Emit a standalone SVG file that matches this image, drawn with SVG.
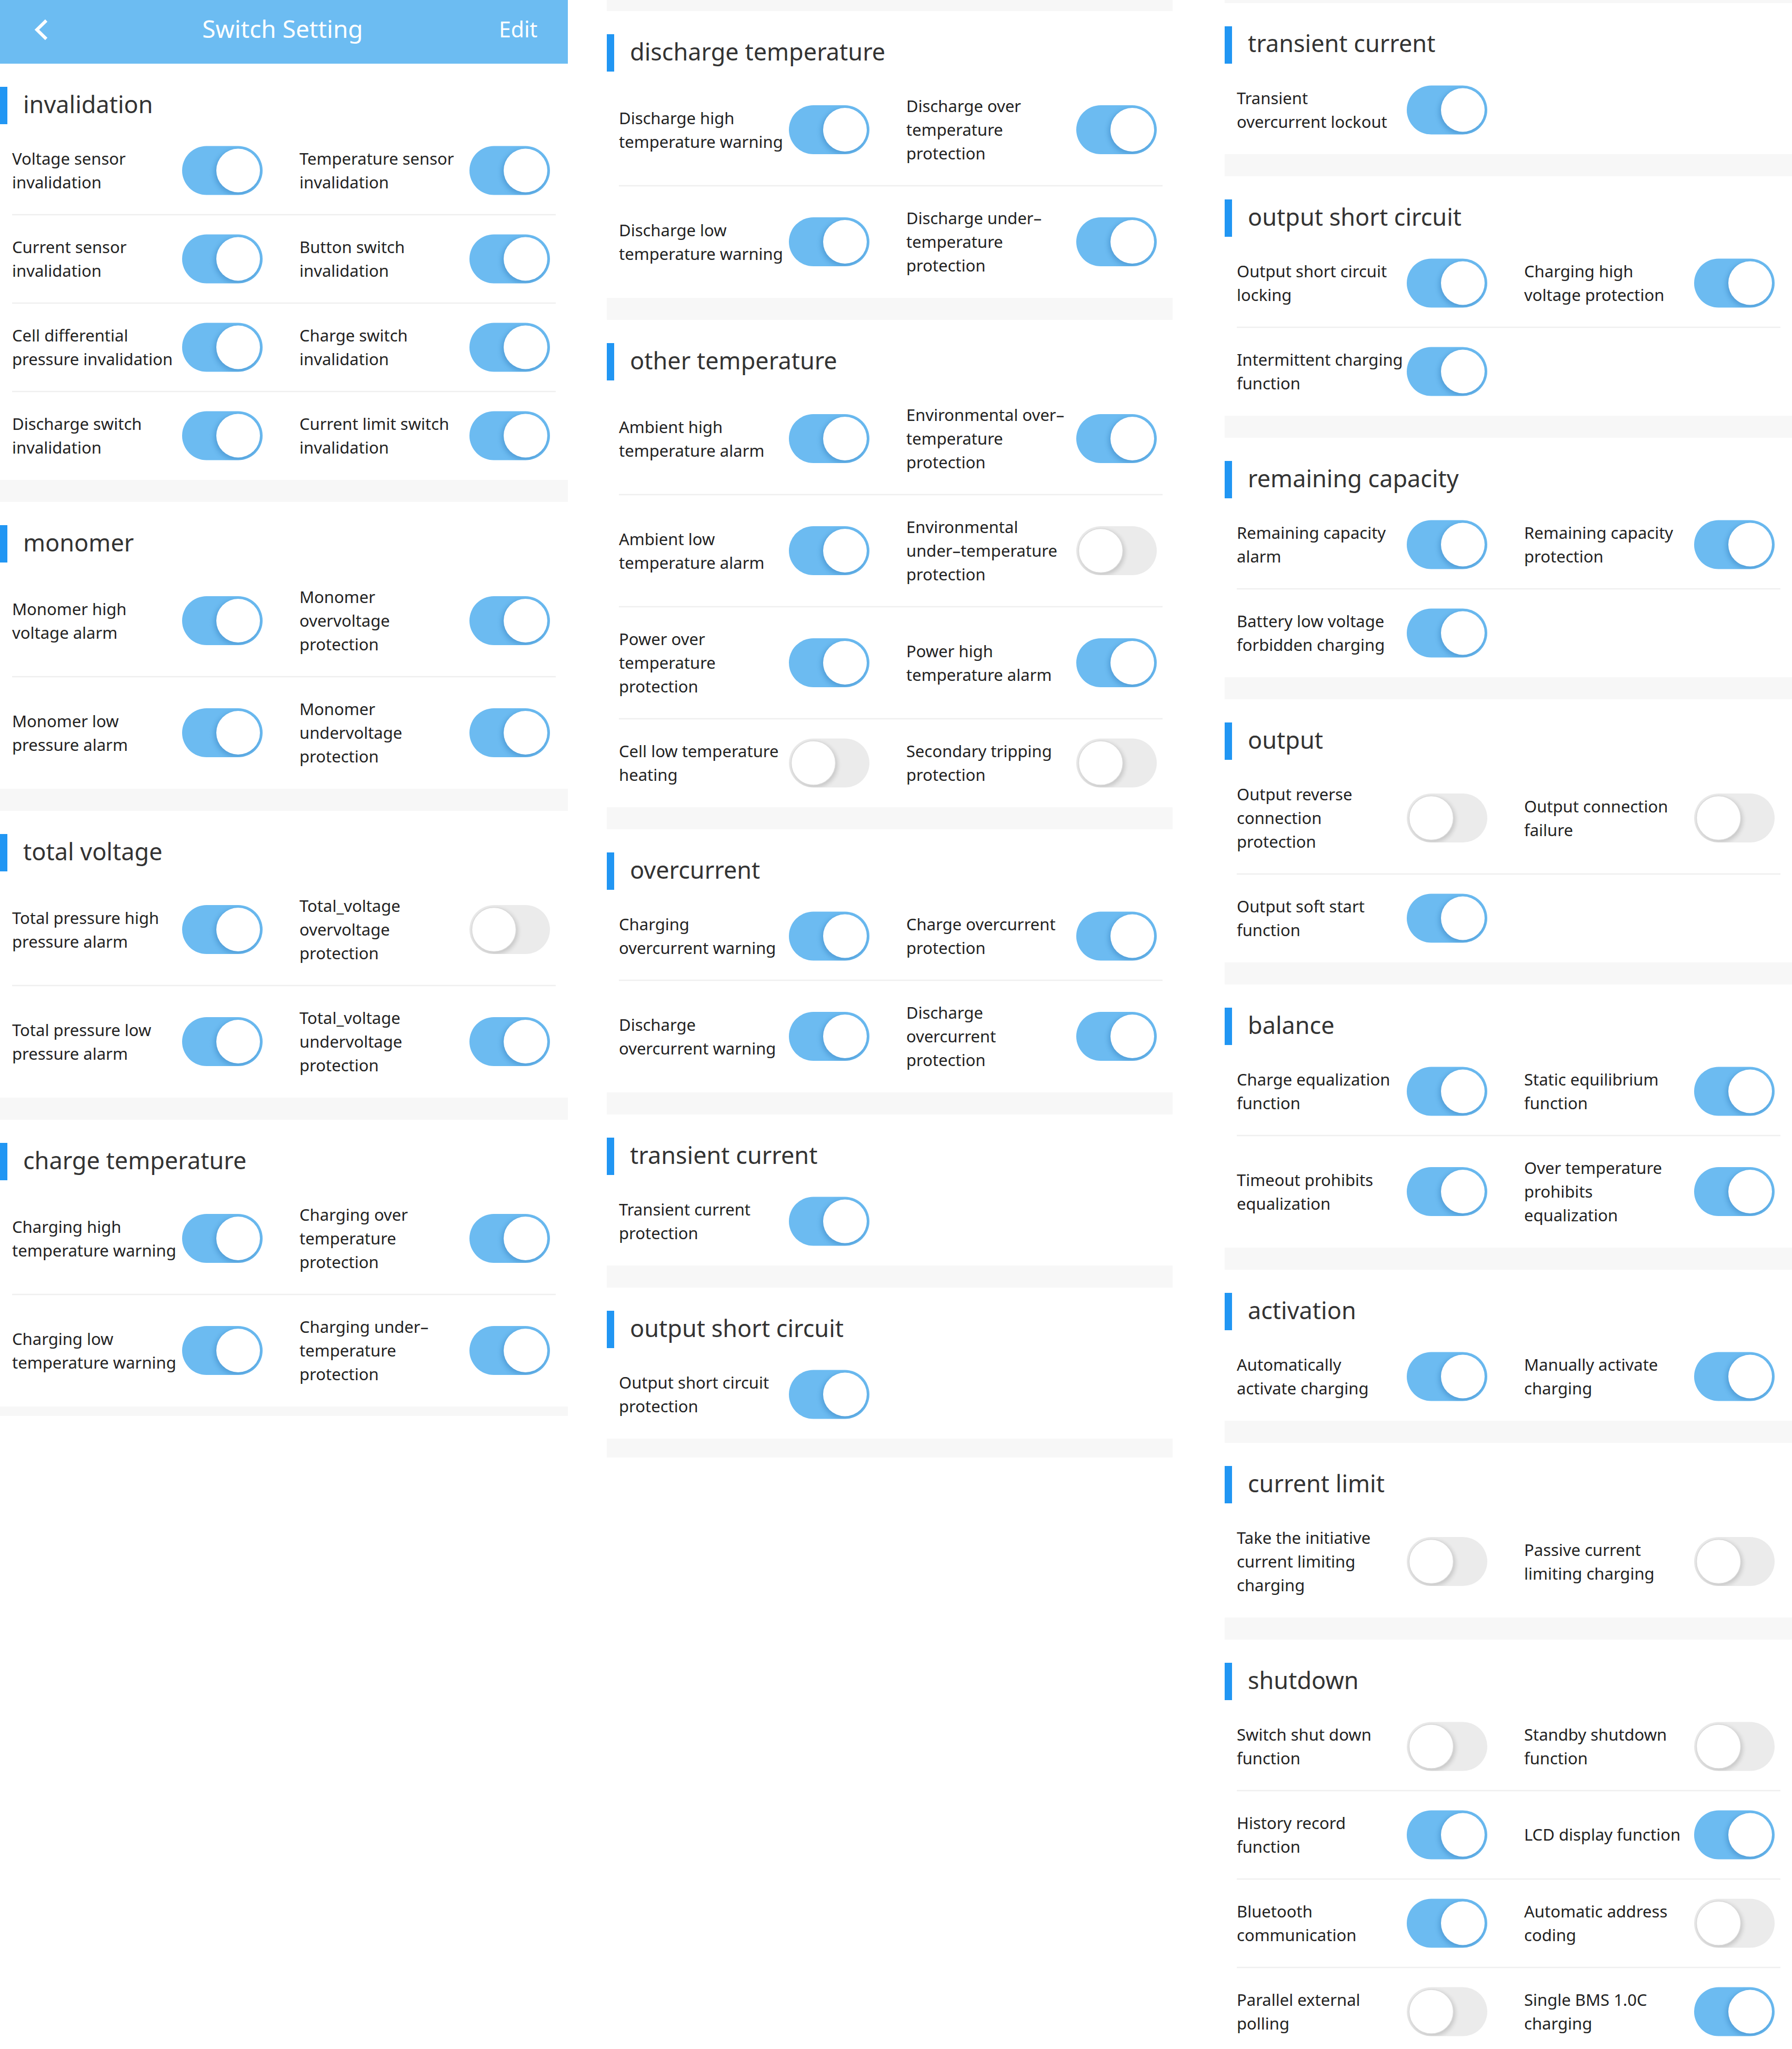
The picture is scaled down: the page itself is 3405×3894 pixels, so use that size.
<svg xmlns="http://www.w3.org/2000/svg" width="3405" height="3894" viewBox="0 0 3405 3894">
<style>
.lbl{font-family:"Noto Sans","Open Sans",sans-serif;font-size:31px;fill:#222}
.ttl{font-family:"Noto Sans","Open Sans",sans-serif;font-size:45px;fill:#333}
.hdr{font-family:"Noto Sans","Open Sans",sans-serif;fill:#fff}
.band{fill:#F7F7F7}
.bar{fill:#2196F3}
.sep{stroke:#EFEFEF;stroke-width:2.5}
</style>
<defs>
<clipPath id="cpT"><rect width="153" height="93" rx="46.5"/></clipPath>
<filter id="blur" x="-40%" y="-40%" width="180%" height="180%"><feGaussianBlur stdDeviation="4"/></filter>
<g id="tOn">
<rect width="153" height="93" rx="46.5" fill="#6CBBF1"/>
<g clip-path="url(#cpT)"><circle cx="104" cy="50" r="43" fill="#2F78B8" opacity="0.4" filter="url(#blur)"/></g>
<circle cx="106.5" cy="46.5" r="41.5" fill="#fff"/>
</g>
<g id="tOff">
<rect width="153" height="93" rx="46.5" fill="#EBEBEB"/>
<g clip-path="url(#cpT)"><circle cx="49" cy="50" r="43" fill="#000" opacity="0.16" filter="url(#blur)"/></g>
<circle cx="46.5" cy="46.5" r="42" fill="#fff" stroke="#DADADA" stroke-width="1.5"/>
</g>
</defs>
<rect width="3405" height="3894" fill="#fff"/>

<!-- Column 1 -->
<g id="col1">
<g id="header">
<rect x="0" y="0" width="1079" height="121" fill="#6CBCF2"/>
<path d="M88 39 L70 56.5 L88 74" fill="none" stroke="#fff" stroke-width="6" stroke-linejoin="miter"/>
<text class="hdr" x="537" y="72" font-size="46" text-anchor="middle">Switch Setting</text>
<text class="hdr" x="948" y="71" font-size="41">Edit</text>
</g>

<g id="sec-invalidation">
<rect class="bar" x="0" y="165" width="14" height="71"/>
<text class="ttl" x="44" y="215">invalidation</text>
<line class="sep" x1="23" y1="408" x2="1056" y2="408"/>
<line class="sep" x1="23" y1="576" x2="1056" y2="576"/>
<line class="sep" x1="23" y1="744" x2="1056" y2="744"/>
<g transform="translate(0,324)">
<g id="voltage-sensor-invalidation"><text class="lbl" x="23" y="-11">Voltage sensor</text><text class="lbl" x="23" y="34">invalidation</text><use href="#tOn" x="346" y="-46.5"/></g>
<g id="temperature-sensor-invalidation"><text class="lbl" x="569" y="-11">Temperature sensor</text><text class="lbl" x="569" y="34">invalidation</text><use href="#tOn" x="892" y="-46.5"/></g>
</g>
<g transform="translate(0,492)">
<g id="current-sensor-invalidation"><text class="lbl" x="23" y="-11">Current sensor</text><text class="lbl" x="23" y="34">invalidation</text><use href="#tOn" x="346" y="-46.5"/></g>
<g id="button-switch-invalidation"><text class="lbl" x="569" y="-11">Button switch</text><text class="lbl" x="569" y="34">invalidation</text><use href="#tOn" x="892" y="-46.5"/></g>
</g>
<g transform="translate(0,660)">
<g id="cell-differential-pressure-invalidation"><text class="lbl" x="23" y="-11">Cell differential</text><text class="lbl" x="23" y="34">pressure invalidation</text><use href="#tOn" x="346" y="-46.5"/></g>
<g id="charge-switch-invalidation"><text class="lbl" x="569" y="-11">Charge switch</text><text class="lbl" x="569" y="34">invalidation</text><use href="#tOn" x="892" y="-46.5"/></g>
</g>
<g transform="translate(0,828)">
<g id="discharge-switch-invalidation"><text class="lbl" x="23" y="-11">Discharge switch</text><text class="lbl" x="23" y="34">invalidation</text><use href="#tOn" x="346" y="-46.5"/></g>
<g id="current-limit-switch-invalidation"><text class="lbl" x="569" y="-11">Current limit switch</text><text class="lbl" x="569" y="34">invalidation</text><use href="#tOn" x="892" y="-46.5"/></g>
</g>
</g>
<rect class="band" x="0" y="912" width="1079" height="42"/>

<g id="sec-monomer">
<rect class="bar" x="0" y="998" width="14" height="71"/>
<text class="ttl" x="44" y="1048">monomer</text>
<line class="sep" x1="23" y1="1286" x2="1056" y2="1286"/>
<g transform="translate(0,1179.5)">
<g id="monomer-high-voltage-alarm"><text class="lbl" x="23" y="-11">Monomer high</text><text class="lbl" x="23" y="34">voltage alarm</text><use href="#tOn" x="346" y="-46.5"/></g>
<g id="monomer-overvoltage-protection"><text class="lbl" x="569" y="-34">Monomer</text><text class="lbl" x="569" y="11">overvoltage</text><text class="lbl" x="569" y="56">protection</text><use href="#tOn" x="892" y="-46.5"/></g>
</g>
<g transform="translate(0,1392.5)">
<g id="monomer-low-pressure-alarm"><text class="lbl" x="23" y="-11">Monomer low</text><text class="lbl" x="23" y="34">pressure alarm</text><use href="#tOn" x="346" y="-46.5"/></g>
<g id="monomer-undervoltage-protection"><text class="lbl" x="569" y="-34">Monomer</text><text class="lbl" x="569" y="11">undervoltage</text><text class="lbl" x="569" y="56">protection</text><use href="#tOn" x="892" y="-46.5"/></g>
</g>
</g>
<rect class="band" x="0" y="1499" width="1079" height="42"/>

<g id="sec-total-voltage">
<rect class="bar" x="0" y="1585" width="14" height="71"/>
<text class="ttl" x="44" y="1635">total voltage</text>
<line class="sep" x1="23" y1="1873" x2="1056" y2="1873"/>
<g transform="translate(0,1766.5)">
<g id="total-pressure-high-pressure-alarm"><text class="lbl" x="23" y="-11">Total pressure high</text><text class="lbl" x="23" y="34">pressure alarm</text><use href="#tOn" x="346" y="-46.5"/></g>
<g id="total-voltage-overvoltage-protection"><text class="lbl" x="569" y="-34">Total_voltage</text><text class="lbl" x="569" y="11">overvoltage</text><text class="lbl" x="569" y="56">protection</text><use href="#tOff" x="892" y="-46.5"/></g>
</g>
<g transform="translate(0,1979.5)">
<g id="total-pressure-low-pressure-alarm"><text class="lbl" x="23" y="-11">Total pressure low</text><text class="lbl" x="23" y="34">pressure alarm</text><use href="#tOn" x="346" y="-46.5"/></g>
<g id="total-voltage-undervoltage-protection"><text class="lbl" x="569" y="-34">Total_voltage</text><text class="lbl" x="569" y="11">undervoltage</text><text class="lbl" x="569" y="56">protection</text><use href="#tOn" x="892" y="-46.5"/></g>
</g>
</g>
<rect class="band" x="0" y="2086" width="1079" height="42"/>

<g id="sec-charge-temperature">
<rect class="bar" x="0" y="2172" width="14" height="71"/>
<text class="ttl" x="44" y="2222">charge temperature</text>
<line class="sep" x1="23" y1="2460" x2="1056" y2="2460"/>
<g transform="translate(0,2353.5)">
<g id="charging-high-temperature-warning"><text class="lbl" x="23" y="-11">Charging high</text><text class="lbl" x="23" y="34">temperature warning</text><use href="#tOn" x="346" y="-46.5"/></g>
<g id="charging-over-temperature-protection"><text class="lbl" x="569" y="-34">Charging over</text><text class="lbl" x="569" y="11">temperature</text><text class="lbl" x="569" y="56">protection</text><use href="#tOn" x="892" y="-46.5"/></g>
</g>
<g transform="translate(0,2566.5)">
<g id="charging-low-temperature-warning"><text class="lbl" x="23" y="-11">Charging low</text><text class="lbl" x="23" y="34">temperature warning</text><use href="#tOn" x="346" y="-46.5"/></g>
<g id="charging-under-temperature-protection"><text class="lbl" x="569" y="-34">Charging under–</text><text class="lbl" x="569" y="11">temperature</text><text class="lbl" x="569" y="56">protection</text><use href="#tOn" x="892" y="-46.5"/></g>
</g>
</g>
<rect class="band" x="0" y="2673" width="1079" height="18"/>
</g>

<!-- Column 2 -->
<g id="col2" transform="translate(1153,0)">
<rect class="band" x="0" y="0" width="1075" height="21"/>

<g id="sec-discharge-temperature">
<rect class="bar" x="0" y="65" width="14" height="71"/>
<text class="ttl" x="44" y="115">discharge temperature</text>
<line class="sep" x1="23" y1="353" x2="1056" y2="353"/>
<g transform="translate(0,246.5)">
<g id="discharge-high-temperature-warning"><text class="lbl" x="23" y="-11">Discharge high</text><text class="lbl" x="23" y="34">temperature warning</text><use href="#tOn" x="346" y="-46.5"/></g>
<g id="discharge-over-temperature-protection"><text class="lbl" x="569" y="-34">Discharge over</text><text class="lbl" x="569" y="11">temperature</text><text class="lbl" x="569" y="56">protection</text><use href="#tOn" x="892" y="-46.5"/></g>
</g>
<g transform="translate(0,459.5)">
<g id="discharge-low-temperature-warning"><text class="lbl" x="23" y="-11">Discharge low</text><text class="lbl" x="23" y="34">temperature warning</text><use href="#tOn" x="346" y="-46.5"/></g>
<g id="discharge-under-temperature-protection"><text class="lbl" x="569" y="-34">Discharge under–</text><text class="lbl" x="569" y="11">temperature</text><text class="lbl" x="569" y="56">protection</text><use href="#tOn" x="892" y="-46.5"/></g>
</g>
</g>
<rect class="band" x="0" y="566" width="1075" height="42"/>

<g id="sec-other-temperature">
<rect class="bar" x="0" y="652" width="14" height="71"/>
<text class="ttl" x="44" y="702">other temperature</text>
<line class="sep" x1="23" y1="940" x2="1056" y2="940"/>
<line class="sep" x1="23" y1="1153" x2="1056" y2="1153"/>
<line class="sep" x1="23" y1="1366" x2="1056" y2="1366"/>
<g transform="translate(0,833.5)">
<g id="ambient-high-temperature-alarm"><text class="lbl" x="23" y="-11">Ambient high</text><text class="lbl" x="23" y="34">temperature alarm</text><use href="#tOn" x="346" y="-46.5"/></g>
<g id="environmental-over-temperature-protection"><text class="lbl" x="569" y="-34">Environmental over–</text><text class="lbl" x="569" y="11">temperature</text><text class="lbl" x="569" y="56">protection</text><use href="#tOn" x="892" y="-46.5"/></g>
</g>
<g transform="translate(0,1046.5)">
<g id="ambient-low-temperature-alarm"><text class="lbl" x="23" y="-11">Ambient low</text><text class="lbl" x="23" y="34">temperature alarm</text><use href="#tOn" x="346" y="-46.5"/></g>
<g id="environmental-under-temperature-protection"><text class="lbl" x="569" y="-34">Environmental</text><text class="lbl" x="569" y="11">under–temperature</text><text class="lbl" x="569" y="56">protection</text><use href="#tOff" x="892" y="-46.5"/></g>
</g>
<g transform="translate(0,1259.5)">
<g id="power-over-temperature-protection"><text class="lbl" x="23" y="-34">Power over</text><text class="lbl" x="23" y="11">temperature</text><text class="lbl" x="23" y="56">protection</text><use href="#tOn" x="346" y="-46.5"/></g>
<g id="power-high-temperature-alarm"><text class="lbl" x="569" y="-11">Power high</text><text class="lbl" x="569" y="34">temperature alarm</text><use href="#tOn" x="892" y="-46.5"/></g>
</g>
<g transform="translate(0,1450)">
<g id="cell-low-temperature-heating"><text class="lbl" x="23" y="-11">Cell low temperature</text><text class="lbl" x="23" y="34">heating</text><use href="#tOff" x="346" y="-46.5"/></g>
<g id="secondary-tripping-protection"><text class="lbl" x="569" y="-11">Secondary tripping</text><text class="lbl" x="569" y="34">protection</text><use href="#tOff" x="892" y="-46.5"/></g>
</g>
</g>
<rect class="band" x="0" y="1534" width="1075" height="42"/>

<g id="sec-overcurrent">
<rect class="bar" x="0" y="1620" width="14" height="71"/>
<text class="ttl" x="44" y="1670">overcurrent</text>
<line class="sep" x1="23" y1="1863" x2="1056" y2="1863"/>
<g transform="translate(0,1779)">
<g id="charging-overcurrent-warning"><text class="lbl" x="23" y="-11">Charging</text><text class="lbl" x="23" y="34">overcurrent warning</text><use href="#tOn" x="346" y="-46.5"/></g>
<g id="charge-overcurrent-protection"><text class="lbl" x="569" y="-11">Charge overcurrent</text><text class="lbl" x="569" y="34">protection</text><use href="#tOn" x="892" y="-46.5"/></g>
</g>
<g transform="translate(0,1969.5)">
<g id="discharge-overcurrent-warning"><text class="lbl" x="23" y="-11">Discharge</text><text class="lbl" x="23" y="34">overcurrent warning</text><use href="#tOn" x="346" y="-46.5"/></g>
<g id="discharge-overcurrent-protection"><text class="lbl" x="569" y="-34">Discharge</text><text class="lbl" x="569" y="11">overcurrent</text><text class="lbl" x="569" y="56">protection</text><use href="#tOn" x="892" y="-46.5"/></g>
</g>
</g>
<rect class="band" x="0" y="2076" width="1075" height="42"/>

<g id="sec-transient-current-2">
<rect class="bar" x="0" y="2162" width="14" height="71"/>
<text class="ttl" x="44" y="2212">transient current</text>
<g transform="translate(0,2321)">
<g id="transient-current-protection"><text class="lbl" x="23" y="-11">Transient current</text><text class="lbl" x="23" y="34">protection</text><use href="#tOn" x="346" y="-46.5"/></g>
</g>
</g>
<rect class="band" x="0" y="2405" width="1075" height="42"/>

<g id="sec-output-short-circuit-2">
<rect class="bar" x="0" y="2491" width="14" height="71"/>
<text class="ttl" x="44" y="2541">output short circuit</text>
<g transform="translate(0,2650)">
<g id="output-short-circuit-protection"><text class="lbl" x="23" y="-11">Output short circuit</text><text class="lbl" x="23" y="34">protection</text><use href="#tOn" x="346" y="-46.5"/></g>
</g>
</g>
<rect class="band" x="0" y="2734" width="1075" height="36"/>
</g>

<!-- Column 3 -->
<g id="col3" transform="translate(2327,0)">
<rect class="band" x="0" y="0" width="1078" height="6"/>

<g id="sec-transient-current-3">
<rect class="bar" x="0" y="50" width="14" height="71"/>
<text class="ttl" x="44" y="99">transient current</text>
<g transform="translate(0,209)">
<g id="transient-overcurrent-lockout"><text class="lbl" x="23" y="-11">Transient</text><text class="lbl" x="23" y="34">overcurrent lockout</text><use href="#tOn" x="346" y="-46.5"/></g>
</g>
</g>
<rect class="band" x="0" y="293" width="1078" height="42"/>

<g id="sec-output-short-circuit-3">
<rect class="bar" x="0" y="379" width="14" height="71"/>
<text class="ttl" x="44" y="429">output short circuit</text>
<line class="sep" x1="23" y1="622" x2="1056" y2="622"/>
<g transform="translate(0,538)">
<g id="output-short-circuit-locking"><text class="lbl" x="23" y="-11">Output short circuit</text><text class="lbl" x="23" y="34">locking</text><use href="#tOn" x="346" y="-46.5"/></g>
<g id="charging-high-voltage-protection"><text class="lbl" x="569" y="-11">Charging high</text><text class="lbl" x="569" y="34">voltage protection</text><use href="#tOn" x="892" y="-46.5"/></g>
</g>
<g transform="translate(0,706)">
<g id="intermittent-charging-function"><text class="lbl" x="23" y="-11">Intermittent charging</text><text class="lbl" x="23" y="34">function</text><use href="#tOn" x="346" y="-46.5"/></g>
</g>
</g>
<rect class="band" x="0" y="790" width="1078" height="42"/>

<g id="sec-remaining-capacity">
<rect class="bar" x="0" y="876" width="14" height="71"/>
<text class="ttl" x="44" y="926">remaining capacity</text>
<line class="sep" x1="23" y1="1119" x2="1056" y2="1119"/>
<g transform="translate(0,1035)">
<g id="remaining-capacity-alarm"><text class="lbl" x="23" y="-11">Remaining capacity</text><text class="lbl" x="23" y="34">alarm</text><use href="#tOn" x="346" y="-46.5"/></g>
<g id="remaining-capacity-protection"><text class="lbl" x="569" y="-11">Remaining capacity</text><text class="lbl" x="569" y="34">protection</text><use href="#tOn" x="892" y="-46.5"/></g>
</g>
<g transform="translate(0,1203)">
<g id="battery-low-voltage-forbidden-charging"><text class="lbl" x="23" y="-11">Battery low voltage</text><text class="lbl" x="23" y="34">forbidden charging</text><use href="#tOn" x="346" y="-46.5"/></g>
</g>
</g>
<rect class="band" x="0" y="1287" width="1078" height="42"/>

<g id="sec-output">
<rect class="bar" x="0" y="1373" width="14" height="71"/>
<text class="ttl" x="44" y="1423">output</text>
<line class="sep" x1="23" y1="1661" x2="1056" y2="1661"/>
<g transform="translate(0,1554.5)">
<g id="output-reverse-connection-protection"><text class="lbl" x="23" y="-34">Output reverse</text><text class="lbl" x="23" y="11">connection</text><text class="lbl" x="23" y="56">protection</text><use href="#tOff" x="346" y="-46.5"/></g>
<g id="output-connection-failure"><text class="lbl" x="569" y="-11">Output connection</text><text class="lbl" x="569" y="34">failure</text><use href="#tOff" x="892" y="-46.5"/></g>
</g>
<g transform="translate(0,1745)">
<g id="output-soft-start-function"><text class="lbl" x="23" y="-11">Output soft start</text><text class="lbl" x="23" y="34">function</text><use href="#tOn" x="346" y="-46.5"/></g>
</g>
</g>
<rect class="band" x="0" y="1829" width="1078" height="42"/>

<g id="sec-balance">
<rect class="bar" x="0" y="1915" width="14" height="71"/>
<text class="ttl" x="44" y="1965">balance</text>
<line class="sep" x1="23" y1="2158" x2="1056" y2="2158"/>
<g transform="translate(0,2074)">
<g id="charge-equalization-function"><text class="lbl" x="23" y="-11">Charge equalization</text><text class="lbl" x="23" y="34">function</text><use href="#tOn" x="346" y="-46.5"/></g>
<g id="static-equilibrium-function"><text class="lbl" x="569" y="-11">Static equilibrium</text><text class="lbl" x="569" y="34">function</text><use href="#tOn" x="892" y="-46.5"/></g>
</g>
<g transform="translate(0,2264.5)">
<g id="timeout-prohibits-equalization"><text class="lbl" x="23" y="-11">Timeout prohibits</text><text class="lbl" x="23" y="34">equalization</text><use href="#tOn" x="346" y="-46.5"/></g>
<g id="over-temperature-prohibits-equalization"><text class="lbl" x="569" y="-34">Over temperature</text><text class="lbl" x="569" y="11">prohibits</text><text class="lbl" x="569" y="56">equalization</text><use href="#tOn" x="892" y="-46.5"/></g>
</g>
</g>
<rect class="band" x="0" y="2371" width="1078" height="42"/>

<g id="sec-activation">
<rect class="bar" x="0" y="2457" width="14" height="71"/>
<text class="ttl" x="44" y="2507">activation</text>
<g transform="translate(0,2616)">
<g id="automatically-activate-charging"><text class="lbl" x="23" y="-11">Automatically</text><text class="lbl" x="23" y="34">activate charging</text><use href="#tOn" x="346" y="-46.5"/></g>
<g id="manually-activate-charging"><text class="lbl" x="569" y="-11">Manually activate</text><text class="lbl" x="569" y="34">charging</text><use href="#tOn" x="892" y="-46.5"/></g>
</g>
</g>
<rect class="band" x="0" y="2700" width="1078" height="42"/>

<g id="sec-current-limit">
<rect class="bar" x="0" y="2786" width="14" height="71"/>
<text class="ttl" x="44" y="2836">current limit</text>
<g transform="translate(0,2967.5)">
<g id="take-the-initiative-current-limiting-charging"><text class="lbl" x="23" y="-34">Take the initiative</text><text class="lbl" x="23" y="11">current limiting</text><text class="lbl" x="23" y="56">charging</text><use href="#tOff" x="346" y="-46.5"/></g>
<g id="passive-current-limiting-charging"><text class="lbl" x="569" y="-11">Passive current</text><text class="lbl" x="569" y="34">limiting charging</text><use href="#tOff" x="892" y="-46.5"/></g>
</g>
</g>
<rect class="band" x="0" y="3074" width="1078" height="42"/>

<g id="sec-shutdown">
<rect class="bar" x="0" y="3160" width="14" height="71"/>
<text class="ttl" x="44" y="3210">shutdown</text>
<line class="sep" x1="23" y1="3403" x2="1056" y2="3403"/>
<line class="sep" x1="23" y1="3571" x2="1056" y2="3571"/>
<line class="sep" x1="23" y1="3739" x2="1056" y2="3739"/>
<g transform="translate(0,3319)">
<g id="switch-shut-down-function"><text class="lbl" x="23" y="-11">Switch shut down</text><text class="lbl" x="23" y="34">function</text><use href="#tOff" x="346" y="-46.5"/></g>
<g id="standby-shutdown-function"><text class="lbl" x="569" y="-11">Standby shutdown</text><text class="lbl" x="569" y="34">function</text><use href="#tOff" x="892" y="-46.5"/></g>
</g>
<g transform="translate(0,3487)">
<g id="history-record-function"><text class="lbl" x="23" y="-11">History record</text><text class="lbl" x="23" y="34">function</text><use href="#tOn" x="346" y="-46.5"/></g>
<g id="lcd-display-function"><text class="lbl" x="569" y="11">LCD display function</text><use href="#tOn" x="892" y="-46.5"/></g>
</g>
<g transform="translate(0,3655)">
<g id="bluetooth-communication"><text class="lbl" x="23" y="-11">Bluetooth</text><text class="lbl" x="23" y="34">communication</text><use href="#tOn" x="346" y="-46.5"/></g>
<g id="automatic-address-coding"><text class="lbl" x="569" y="-11">Automatic address</text><text class="lbl" x="569" y="34">coding</text><use href="#tOff" x="892" y="-46.5"/></g>
</g>
<g transform="translate(0,3823)">
<g id="parallel-external-polling"><text class="lbl" x="23" y="-11">Parallel external</text><text class="lbl" x="23" y="34">polling</text><use href="#tOff" x="346" y="-46.5"/></g>
<g id="single-bms-charging"><text class="lbl" x="569" y="-11">Single BMS 1.0C</text><text class="lbl" x="569" y="34">charging</text><use href="#tOn" x="892" y="-46.5"/></g>
</g>
</g>
</g>
</svg>
